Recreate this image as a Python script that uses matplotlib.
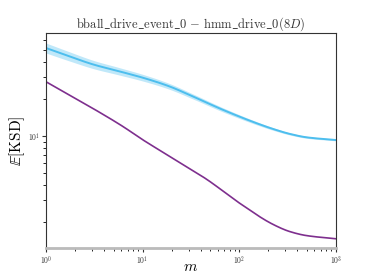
import numpy as np
import matplotlib
matplotlib.use('Agg')
import matplotlib.pyplot as plt

plt.rcParams['font.family'] = 'serif'
plt.rcParams['font.serif'] = ['cmr10']
plt.rcParams['mathtext.fontset'] = 'cm'
plt.rcParams['axes.formatter.use_mathtext'] = True

# values
m_blue = [1, 1.73, 3.13, 5.69, 10.3, 18.7, 33.9, 68, 151, 224, 333, 495, 1000]
ksd_blue = [51.9, 44.5, 38.0, 33.6, 29.6, 25.4, 20.8, 16.3, 12.7, 11.4, 10.4, 9.76, 9.27]
band_blue = [1.098, 1.09, 1.08, 1.072, 1.064, 1.056, 1.048, 1.04, 1.03, 1.025, 1.02, 1.018, 1.015]

m_purple = [1, 2.85, 6.3, 9.45, 19.2, 45.9, 101, 224, 334, 495, 1000]
ksd_purple = [27.6, 17.3, 11.9, 9.6, 6.8, 4.45, 2.84, 1.91, 1.67, 1.55, 1.46]


# monotone cubic (pchip) through the read points, in log-log space
def pchip(x, y, xn):
    h = np.diff(x)
    d = np.diff(y) / h
    s = np.zeros_like(y)
    for k in range(1, len(x) - 1):
        if d[k - 1] * d[k] > 0:
            w1 = 2 * h[k] + h[k - 1]
            w2 = h[k] + 2 * h[k - 1]
            s[k] = (w1 + w2) / (w1 / d[k - 1] + w2 / d[k])
    s[0] = d[0]
    s[-1] = d[-1]
    i = np.clip(np.searchsorted(x, xn) - 1, 0, len(x) - 2)
    t = (xn - x[i]) / h[i]
    h00 = 2 * t**3 - 3 * t**2 + 1
    h10 = t**3 - 2 * t**2 + t
    h01 = -2 * t**3 + 3 * t**2
    h11 = t**3 - t**2
    return h00 * y[i] + h10 * h[i] * s[i] + h01 * y[i + 1] + h11 * h[i] * s[i + 1]


def smooth(xs, ys):
    lx = np.log10(xs)
    grid = np.linspace(lx[0], lx[-1], 400)
    return 10 ** grid, 10 ** pchip(lx, np.log10(ys), grid)


fig = plt.figure(figsize=(3.74, 2.8), dpi=100)
ax = fig.add_axes([0.123, 0.113, 0.775, 0.769])

xb, yb = smooth(m_blue, ksd_blue)
_, fb = smooth(m_blue, band_blue)
ax.fill_between(xb, yb / fb, yb * fb, color='#4DBEEE', alpha=0.35, lw=0)
ax.plot(xb, yb, color='#4DBEEE', lw=1.4)

xp, yp = smooth(m_purple, ksd_purple)
ax.plot(xp, yp, color='#7E2F8E', lw=1.2)

ax.set_xscale('log')
ax.set_yscale('log')
ax.set_xlim(1, 1000)
ax.set_ylim(1.22, 68.7)
ax.axhline(1.22, color='#bbbbbb', lw=2, zorder=5, clip_on=False)

ax.set_title(r'$\mathrm{bball\_drive\_event\_0}\,-\,\mathrm{hmm\_drive\_0}(8D)$', fontsize=9, color='#333333', pad=4)
ax.set_xlabel(r'$m$', fontsize=11)
ax.xaxis.set_label_coords(0.5, -0.055)
ax.set_ylabel(r'$\mathbb{E}[\mathrm{KSD}]$', fontsize=11, labelpad=1)
ax.tick_params(labelsize=5.5, colors='#333333', length=3, width=0.8, pad=1)
ax.tick_params(which='minor', length=2, width=0.6)
for s in ax.spines.values():
    s.set_color('#333333')

plt.savefig('out.png', dpi=100)
